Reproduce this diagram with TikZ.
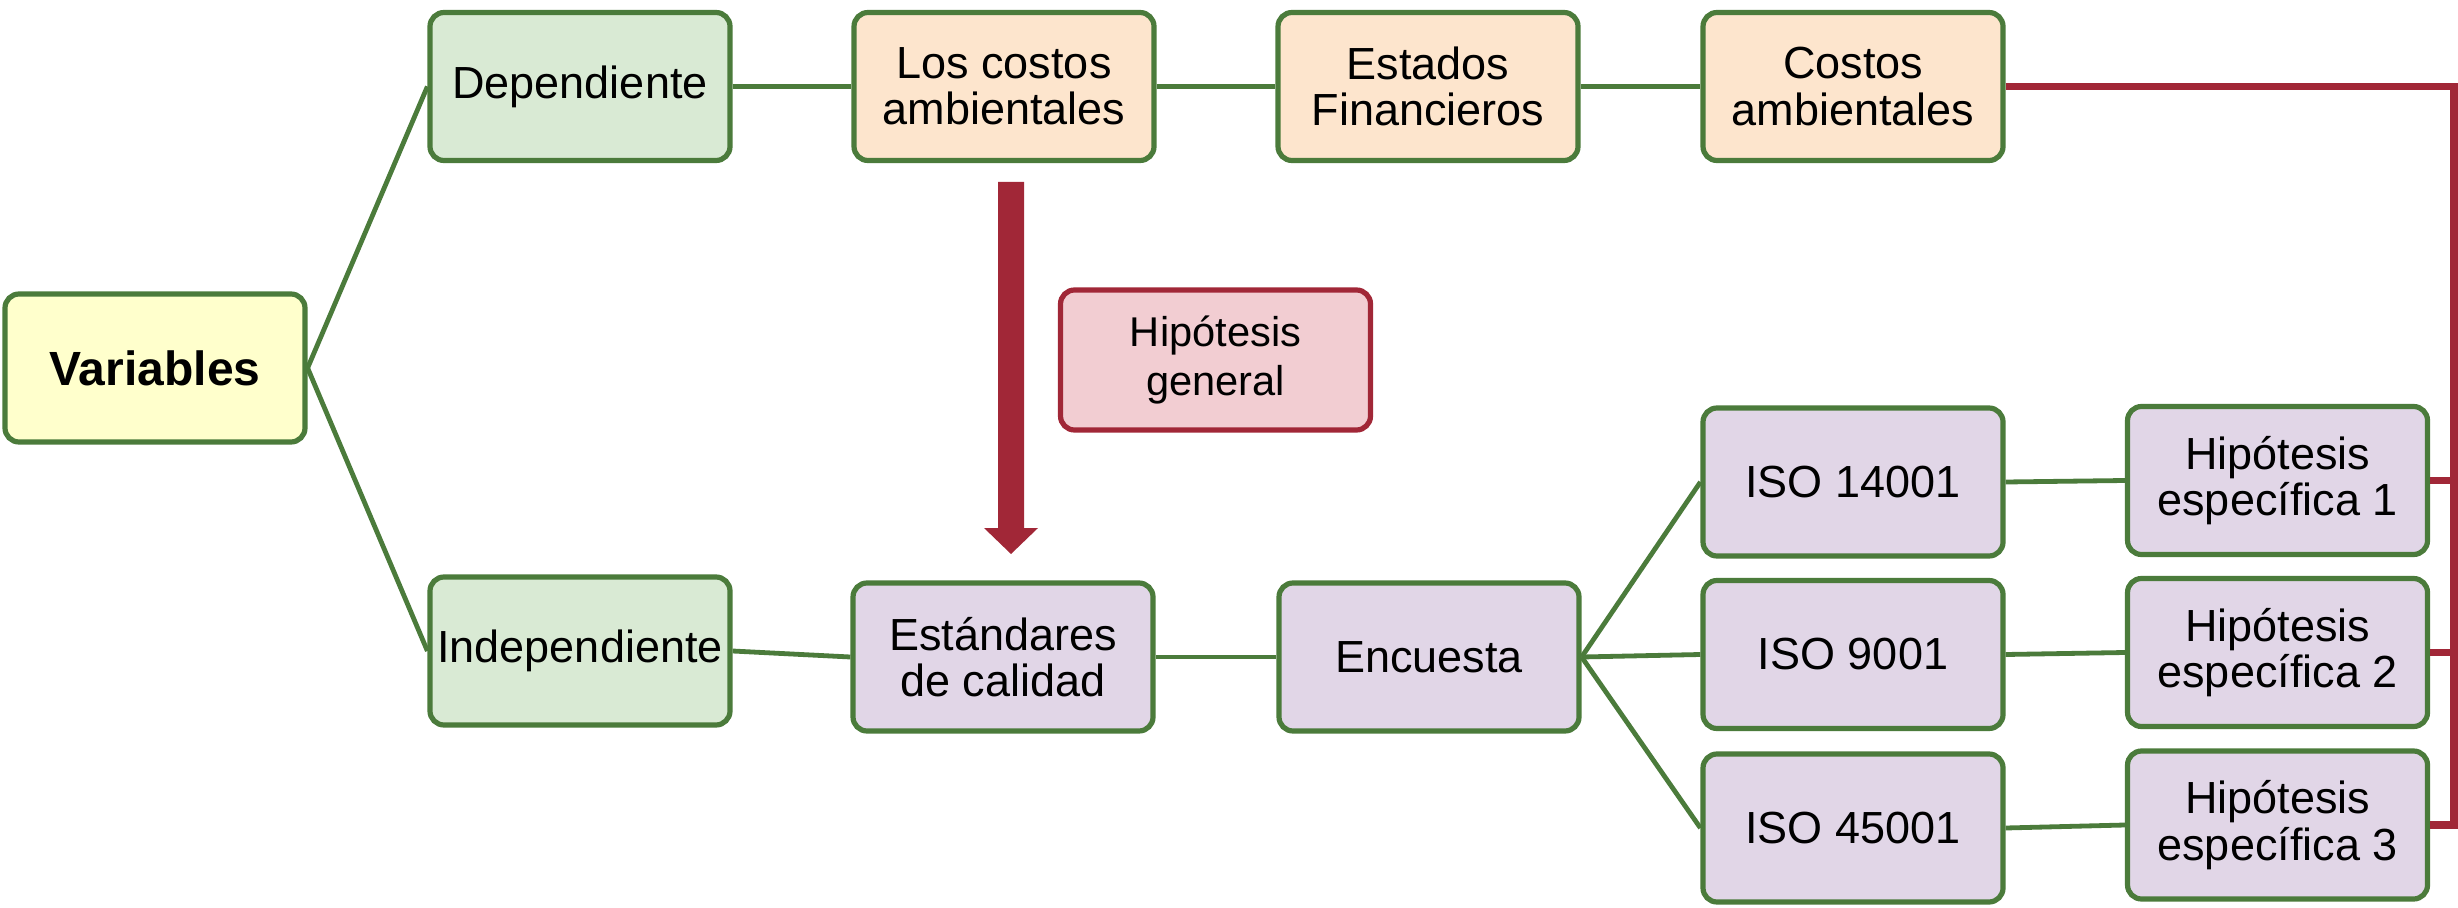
\documentclass[tikz,border=0pt]{standalone}
\usepackage{fontspec}
\setmainfont{Liberation Sans}
\definecolor{gstroke}{HTML}{4B7B3B}
\definecolor{yelfill}{HTML}{FFFFCC}
\definecolor{grnfill}{HTML}{D9EAD4}
\definecolor{orgfill}{HTML}{FDE5CD}
\definecolor{purfill}{HTML}{E1D6E7}
\definecolor{pnkfill}{HTML}{F2CDD2}
\definecolor{rline}{HTML}{A12737}
\begin{document}
\begin{tikzpicture}[x=0.25pt,y=-0.25pt,
  box/.style={rectangle, rounded corners=3.5pt, draw=gstroke, line width=1.3pt,
    minimum width=75pt, minimum height=37pt, inner sep=0pt, align=center,
    font=\fontsize{11.25}{11.6}\selectfont},
  yel/.style={box, fill=yelfill, font=\bfseries\fontsize{12}{14}\selectfont},
  grn/.style={box, fill=grnfill},
  org/.style={box, fill=orgfill},
  pur/.style={box, fill=purfill},
  pnk/.style={box, fill=pnkfill, draw=rline, minimum width=77.5pt, minimum height=35pt,
    font=\fontsize{10.4}{12.2}\selectfont},
  conn/.style={draw=gstroke, line width=1.2pt},
  redl/.style={draw=rline, line width=1.8pt, line join=miter}]
\useasboundingbox (0,0) rectangle (2458,908);
% nodes
\node[yel] (var) at (155,368) {Variables};
\node[grn] (dep) at (580,86.5) {Dependiente};
\node[org] (lc) at (1004,86.5) {Los costos\\ambientales};
\node[org] (ef) at (1428,86.5) {Estados\\Financieros};
\node[org] (ca) at (1853,86.5) {Costos\\ambientales};
\node[pnk] (hg) at (1215.5,360) {Hipótesis\\general};
\node[grn] (ind) at (580,651) {Independiente};
\node[pur] (est) at (1003,657) {Estándares\\de calidad};
\node[pur] (enc) at (1429,657) {Encuesta};
\node[pur] (iso1) at (1853,482) {ISO 14001};
\node[pur] (iso2) at (1853,654.5) {ISO 9001};
\node[pur] (iso3) at (1853,828) {ISO 45001};
\node[pur] (he1) at (2277.5,480.5) {Hipótesis\\específica 1};
\node[pur] (he2) at (2277.5,652.5) {Hipótesis\\específica 2};
\node[pur] (he3) at (2277.5,825) {Hipótesis\\específica 3};
% green connectors
\draw[conn] (var.east) -- (dep.west);
\draw[conn] (var.east) -- (ind.west);
\draw[conn] (dep.east) -- (lc.west);
\draw[conn] (lc.east) -- (ef.west);
\draw[conn] (ef.east) -- (ca.west);
\draw[conn] (ind.east) -- (est.west);
\draw[conn] (est.east) -- (enc.west);
\draw[conn] (enc.east) -- (iso1.west);
\draw[conn] (enc.east) -- (iso2.west);
\draw[conn] (enc.east) -- (iso3.west);
\draw[conn] (iso1.east) -- (he1.west);
\draw[conn] (iso2.east) -- (he2.west);
\draw[conn] (iso3.east) -- (he3.west);
% red connectors
\coordinate (rt) at (2454,86.5);
\coordinate (rb) at (2454,829);
\draw[redl] (ca.east) -- (rt) -- (rb);
\draw[redl] (he1.east) -- (he1.east -| rt);
\draw[redl] (he2.east) -- (he2.east -| rt);
\draw[redl] (he3.east) -- (he3.east -| rt);
% big arrow
\fill[rline] (998,182) -- (1024,182) -- (1024,528) -- (1038,528) -- (1011,554)
  -- (984,528) -- (998,528) -- cycle;
\end{tikzpicture}
\end{document}
